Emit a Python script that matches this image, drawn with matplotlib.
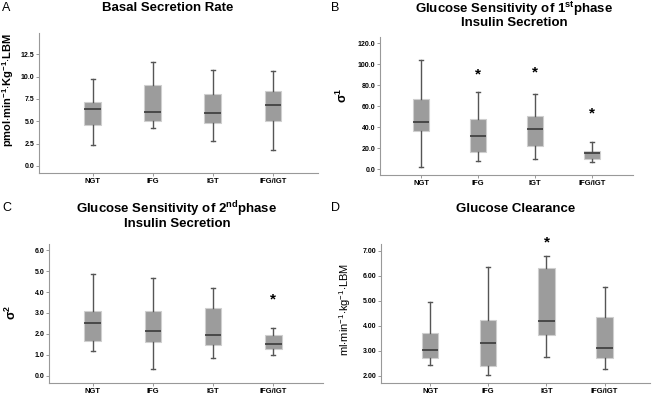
import matplotlib
matplotlib.use("Agg")
import matplotlib.pyplot as plt

plt.rcParams['font.family'] = ['Liberation Sans', 'DejaVu Sans']
plt.rcParams['mathtext.fontset'] = 'custom'
plt.rcParams['mathtext.rm'] = 'Liberation Sans'
plt.rcParams['mathtext.bf'] = 'Liberation Sans:bold'
plt.rcParams['mathtext.it'] = 'Liberation Sans:italic'

groups = ["NGT", "IFG", "IGT", "IFG/IGT"]

# panel A - basal secretion rate
basal_lo = [2.3, 4.2, 2.8, 1.75]
basal_q1 = [4.6, 5.0, 4.85, 5.05]
basal_med = [6.35, 6.0, 5.9, 6.8]
basal_q3 = [7.15, 9.07, 8.05, 8.4]
basal_hi = [9.7, 11.7, 10.7, 10.6]

# panel B - sigma 1
sig1_lo = [1.5, 8.0, 9.9, 7.0]
sig1_q1 = [36.0, 16.6, 22.3, 9.9]
sig1_med = [44.5, 31.8, 37.9, 15.0]
sig1_q3 = [66.8, 48.0, 50.8, 17.2]
sig1_hi = [103.8, 73.2, 72.0, 25.5]
sig1_star = [None, 90.5, 92.0, 53.0]

# panel C - sigma 2
sig2_lo = [1.16, 0.3, 0.83, 0.97]
sig2_q1 = [1.64, 1.61, 1.45, 1.26]
sig2_med = [2.54, 2.12, 1.93, 1.5]
sig2_q3 = [3.08, 3.08, 3.26, 1.96]
sig2_hi = [4.88, 4.69, 4.18, 2.28]
sig2_star = [None, None, None, 3.65]

# panel D - glucose clearance
clr_lo = [2.44, 2.05, 2.76, 2.28]
clr_q1 = [2.72, 2.41, 3.65, 2.72]
clr_med = [3.05, 3.33, 4.21, 3.13]
clr_q3 = [3.72, 4.25, 6.31, 4.36]
clr_hi = [4.95, 6.37, 6.81, 5.57]
clr_star = [None, None, 7.35, None]


def make_stats(lo, q1, med, q3, hi):
    stats = []
    for i in range(len(groups)):
        stats.append({"whislo": lo[i], "q1": q1[i], "med": med[i],
                      "q3": q3[i], "whishi": hi[i], "fliers": [],
                      "label": groups[i]})
    return stats


def draw_panel(ax, stats, ylim, xlim, yticks, fmt, stars=None):
    ax.bxp(stats, positions=[1, 2, 3, 4], widths=0.28, patch_artist=True,
           showfliers=False,
           boxprops=dict(facecolor="#9c9c9c", edgecolor="#cfcfcf", linewidth=0.8),
           medianprops=dict(color="#3a3a3a", linewidth=1.2),
           whiskerprops=dict(color="#555555", linewidth=1.0),
           capprops=dict(color="#555555", linewidth=1.0),
           capwidths=0.07)
    ax.set_xlim(xlim)
    ax.set_ylim(ylim)
    ax.set_yticks(yticks)
    ax.set_yticklabels([fmt % v for v in yticks], fontsize=5, fontweight="bold")
    ax.set_xticks([1, 2, 3, 4])
    ax.set_xticklabels(groups, fontsize=5.5, fontweight="bold")
    ax.tick_params(axis="both", length=2, width=0.6, color="#888888", pad=1.5)
    for s in ["top", "right"]:
        ax.spines[s].set_visible(False)
    for s in ["left", "bottom"]:
        ax.spines[s].set_color("#999999")
        ax.spines[s].set_linewidth(0.8)
    if stars:
        for i, v in enumerate(stars):
            if v is not None:
                ax.text(i + 1, v, "*", ha="center", va="center", fontsize=11,
                        fontweight="bold", clip_on=False)


W, H = 656, 404
fig = plt.figure(figsize=(6.56, 4.04), dpi=100)


def px_axes(left, top, right, bottom):
    return fig.add_axes([left / W, 1 - bottom / H, (right - left) / W, (bottom - top) / H])


axA = px_axes(39, 33, 318, 173)
draw_panel(axA, make_stats(basal_lo, basal_q1, basal_med, basal_q3, basal_hi),
           (-0.8, 14.9), (0.105, 4.75), [0, 2.5, 5, 7.5, 10, 12.5], "%.1f")

axB = px_axes(380, 37, 633, 175)
draw_panel(axB, make_stats(sig1_lo, sig1_q1, sig1_med, sig1_q3, sig1_hi),
           (-5.7, 126), (0.28, 4.72), [0, 20, 40, 60, 80, 100, 120], "%.1f", sig1_star)

axC = px_axes(49, 244, 323, 383)
draw_panel(axC, make_stats(sig2_lo, sig2_q1, sig2_med, sig2_q3, sig2_hi),
           (-0.35, 6.3), (0.27, 4.83), [0, 1, 2, 3, 4, 5, 6], "%.1f", sig2_star)

axD = px_axes(381, 244, 650, 383)
draw_panel(axD, make_stats(clr_lo, clr_q1, clr_med, clr_q3, clr_hi),
           (1.71, 7.27), (0.155, 4.78), [2, 3, 4, 5, 6, 7], "%.2f", clr_star)

# panel letters
for x, y, s in [(2, 8, "A"), (331, 8, "B"), (2, 208, "C"), (331, 208, "D")]:
    fig.text(x / W, 1 - y / H, s, fontsize=9, ha="left", va="center")

# titles
fig.text(168 / W, 1 - 8 / H, "Basal Secretion Rate", fontsize=9.5,
         fontweight="bold", ha="center", va="center")
fig.text(514 / W, 1 - 9 / H, r"Glucose Sensitivity of 1$^{\mathbf{st}}$phase", fontsize=9.5,
         fontweight="bold", ha="center", va="center")
fig.text(514 / W, 1 - 23 / H, "Insulin Secretion", fontsize=9.5,
         fontweight="bold", ha="center", va="center")
fig.text(177 / W, 1 - 209 / H, r"Glucose Sensitivity of 2$^{\mathbf{nd}}$phase", fontsize=9.5,
         fontweight="bold", ha="center", va="center")
fig.text(177 / W, 1 - 224 / H, "Insulin Secretion", fontsize=9.5,
         fontweight="bold", ha="center", va="center")
fig.text(516 / W, 1 - 209 / H, "Glucose Clearance", fontsize=9.5,
         fontweight="bold", ha="center", va="center")

# y axis labels
fig.text(8 / W, 1 - 90 / H, r"$\mathbf{pmol{\cdot}min^{-1}{\cdot}Kg^{-1}{\cdot}LBM}$",
         fontsize=8, rotation=90, ha="center", va="center")
fig.text(342 / W, 1 - 95 / H, r"$\mathbf{\sigma^{1}}$",
         fontsize=9, rotation=90, ha="center", va="center")
fig.text(11 / W, 1 - 312 / H, r"$\mathbf{\sigma^{2}}$",
         fontsize=9, rotation=90, ha="center", va="center")
fig.text(345 / W, 1 - 309 / H, r"$\mathrm{ml{\cdot}min^{-1}{\cdot}kg^{-1}{\cdot}LBM}$",
         fontsize=8, rotation=90, ha="center", va="center")

fig.savefig("out.png", dpi=100)
